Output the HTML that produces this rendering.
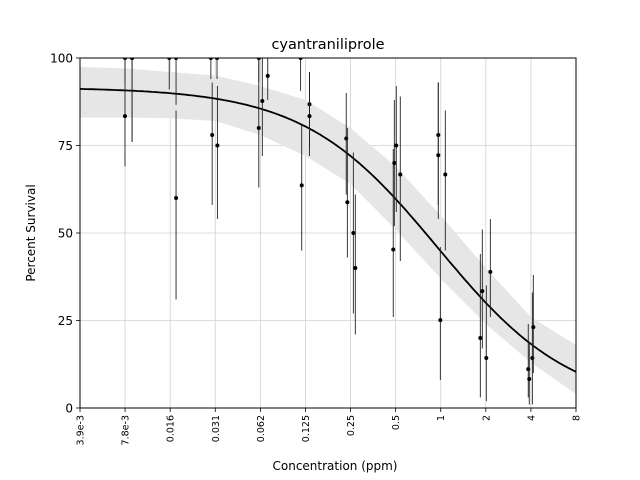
<!DOCTYPE html>
<html><head><meta charset="utf-8"><style>
body{margin:0;background:#fff}
svg{display:block;font-family:"DejaVu Sans","Liberation Sans",sans-serif}
</style></head><body>
<svg id="chart" width="640" height="480" viewBox="0 0 640 480">
<defs><clipPath id="plotclip"><rect x="80" y="58" width="496" height="350"/></clipPath></defs>
<rect x="0" y="0" width="640" height="480" fill="#fff"/>
<text x="328" y="49" font-size="14.5" text-anchor="middle" fill="#000">cyantraniliprole</text>
<text x="335" y="470" font-size="12" text-anchor="middle" fill="#000">Concentration (ppm)</text>
<text transform="translate(35,233) rotate(-90)" font-size="12" text-anchor="middle" fill="#000">Percent Survival</text>
<g id="grid"></g>
<g id="band"></g>
<g id="curve" clip-path="url(#plotclip)"></g>
<g id="pts" clip-path="url(#plotclip)"></g>
<g id="axes"></g>
</svg>
<script>
const xTicks = [0.00390625, 0.0078125, 0.015625, 0.03125, 0.0625, 0.125, 0.25, 0.5, 1, 2, 4, 8];
const xTickLabels = ["3.9e-3","7.8e-3","0.016","0.031","0.062","0.125","0.25","0.5","1","2","4","8"];
const yTicks = [0, 25, 50, 75, 100];
const conc = [0.0078,0.0087,0.0154,0.0171,0.0292,0.0321,0.061,0.116,
  0.0078,0.0087,0.0171,0.0298,0.0323,0.061,0.0644,0.070,0.118,0.133,0.133,
  0.234,0.238,0.261,0.269,0.482,0.49,0.505,0.537,0.963,0.963,0.994,1.073,
  1.838,1.895,2.015,2.144,3.84,3.90,4.09,4.15];
const survival = [100,100,100,100,100,100,100,100,
  83.4,100,60,78,75,80,87.7,94.9,63.6,86.8,83.4,
  77,58.8,50,40,45.3,70,75,66.7,78,72.2,25.1,66.7,
  20,33.4,14.3,38.9,11.1,8.3,14.3,23.1];
const errLow = [93,76,91,86.6,94,94,93,90.6,
  69,76,31,58,54,63,72,88,45,74,72,
  61,43,27,21,26,52,56,42,58,54,8,45,
  3,17,2,26,3,1,1,10];
const errHigh = [100,100,100,100,100,100,100,100,
  100,100,85,93,92,100,100,100,81,96,96,
  90,80,73,61,74,88,92,89,93,93,46,85,
  44,51,35,54,24,19,33,38];
const bandUpper = [97.5,97,96,95,92,88,80,69,55,40,26,18];
const bandLower = [83,83,82.8,82,78,72,64,51,37,24,13,4];
const fitTop = 91.6, fitEC50 = 0.956, fitSlope = 0.97;

const NS="http://www.w3.org/2000/svg";
const X0=80,X1=576,Y0=408,Y1=58;
const lmin=Math.log2(xTicks[0]), lmax=Math.log2(xTicks[xTicks.length-1]);
function sx(c){return X0+(Math.log2(c)-lmin)/(lmax-lmin)*(X1-X0);}
function sy(v){return Y0-(v/100)*(Y0-Y1);}
function mk(tag,attrs,parent){const e=document.createElementNS(NS,tag);for(const k in attrs)e.setAttribute(k,attrs[k]);parent.appendChild(e);return e;}
const grid=document.getElementById('grid'),band=document.getElementById('band'),curve=document.getElementById('curve'),pts=document.getElementById('pts'),axes=document.getElementById('axes');

xTicks.forEach((t,i)=>{const x=sx(t);
  const l=mk('line',{x1:x,x2:x,y1:Y1,y2:Y0,stroke:'#d0d0d0','stroke-width':0.8},grid);
  
  
  const tk=mk('line',{x1:x,x2:x,y1:Y0,y2:Y0+4,stroke:'#000','stroke-width':0.8},axes);
  
  
  const tx=mk('text',{transform:`translate(${x+3.5},${Y0+7}) rotate(-90)`,'font-size':9.5,'text-anchor':'end',fill:'#000'},axes);
  tx.textContent=xTickLabels[i];
  
  
});
yTicks.forEach(t=>{const y=sy(t);
  const l=mk('line',{x1:X0,x2:X1,y1:y,y2:y,stroke:'#d0d0d0','stroke-width':0.8},grid);
  
  
  const tk=mk('line',{x1:X0-4,x2:X0,y1:y,y2:y,stroke:'#000','stroke-width':0.8},axes);
  
  
  const tx=mk('text',{x:X0-7,y:y+4.5,'font-size':12,'text-anchor':'end',fill:'#000'},axes);
  tx.textContent=String(t);
  
  
});
const frame=mk('rect',{x:X0,y:Y1,width:X1-X0,height:Y0-Y1,fill:'none',stroke:'#000','stroke-width':1},axes);



let d='';
xTicks.forEach((t,i)=>{d+=(i?'L':'M')+sx(t).toFixed(1)+','+sy(bandUpper[i]).toFixed(1);});
for(let i=xTicks.length-1;i>=0;i--){d+='L'+sx(xTicks[i]).toFixed(1)+','+sy(bandLower[i]).toFixed(1);}
const bp=mk('path',{d:d+'Z',fill:'#e6e6e6',stroke:'none'},band);



let cd='';
for(let i=0;i<=200;i++){const lc=lmin+(lmax-lmin)*i/200;const c=Math.pow(2,lc);
  const v=fitTop/(1+Math.pow(c/fitEC50,fitSlope));
  cd+=(i?'L':'M')+sx(c).toFixed(1)+','+sy(v).toFixed(1);}
const cp=mk('path',{d:cd,fill:'none',stroke:'#000','stroke-width':1.8},curve);



conc.forEach((c,i)=>{const x=sx(c);
  const e=mk('line',{x1:x,x2:x,y1:sy(errLow[i]),y2:sy(errHigh[i]),stroke:'#222','stroke-width':0.9},pts);
  
  
  const p=mk('circle',{cx:x,cy:sy(survival[i]),r:2,fill:'#000'},pts);
  
  
});
</script>
</body></html>
